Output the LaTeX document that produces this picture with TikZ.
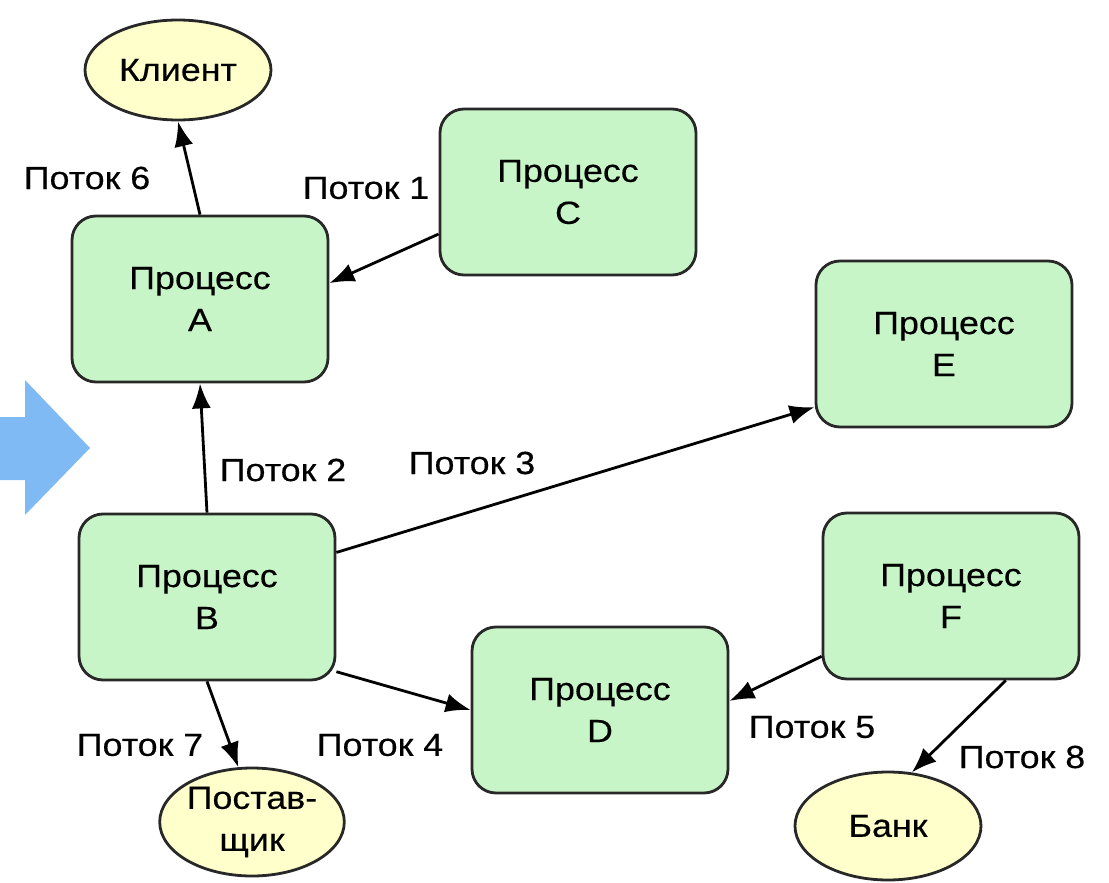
\documentclass[tikz,border=0pt]{standalone}
\usepackage{fontspec}
\setmainfont{Liberation Sans}[FakeStretch=1.12,FakeBold=0.4]
\usetikzlibrary{shapes.geometric,arrows.meta}
\definecolor{procgreen}{RGB}{200,245,200}
\definecolor{extyellow}{RGB}{255,255,204}
\definecolor{hintblue}{RGB}{128,186,245}
\definecolor{rim}{RGB}{40,40,40}
\newcommand{\diafont}{\fontsize{32}{42}\selectfont}
\begin{document}
\begin{tikzpicture}[x=1pt,y=-1pt,
  proc/.style={rectangle, rounded corners=24pt, minimum width=256pt, minimum height=166pt,
    fill=procgreen, draw=rim, line width=2.8pt, align=center, font=\diafont, inner sep=0pt},
  ext/.style={ellipse, minimum width=186pt, minimum height=100pt, inner sep=0pt,
    fill=extyellow, draw=rim, line width=2.8pt, align=center, font=\diafont},
  flow/.style={draw=black, line width=2.8pt, -{Latex[length=25pt,width=19pt]}},
  flowlabel/.style={font=\diafont, inner sep=0pt}]
\useasboundingbox (0,0) rectangle (1109,883);

% hint arrow on the left edge
\fill[hintblue] (0,417) -- (25,417) -- (25,380) -- (90,448) -- (25,515) -- (25,480) -- (0,480) -- cycle;

% processes
\node[proc] (A) at (200,299) {Процесс\\A};
\node[proc] (C) at (568,192) {Процесс\\C};
\node[proc] (E) at (944,344) {Процесс\\E};
\node[proc] (B) at (207,597) {Процесс\\B};
\node[proc] (F) at (951,596) {Процесс\\F};
\node[proc] (D) at (600,710) {Процесс\\D};

% external parties
\node[ext] (client) at (178,70) {Клиент};
\node[ext, minimum width=180pt, minimum height=108pt] (supplier) at (252,822) {Постав-\\щик};
\node[ext, minimum height=108pt] (bank) at (888,826) {Банк};

% flows
\draw[flow] (A.north) -- (client.south);
\draw[flow] (C.198) -- (A.7);
\draw[flow] (B.north) -- (A.south);
\draw[flow] (B.19) -- (E.206);
\draw[flow] (B.-30) -- (D.west);
\draw[flow] (F.205) -- (D.4);
\draw[flow] (B.south) -- (supplier.104);
\draw[flow] (F.-57) -- (bank.66);

% flow labels
\node[flowlabel] (l6) at (87,178) {Поток 6};
\node[flowlabel] (l1) at (366,188) {Поток 1};
\node[flowlabel] (l2) at (283,470) {Поток 2};
\node[flowlabel] (l3) at (472,463) {Поток 3};
\node[flowlabel] (l4) at (380,745) {Поток 4};
\node[flowlabel] (l5) at (812,727) {Поток 5};
\node[flowlabel] (l7) at (140,745) {Поток 7};
\node[flowlabel] (l8) at (1022,757) {Поток 8};
\end{tikzpicture}
\end{document}
